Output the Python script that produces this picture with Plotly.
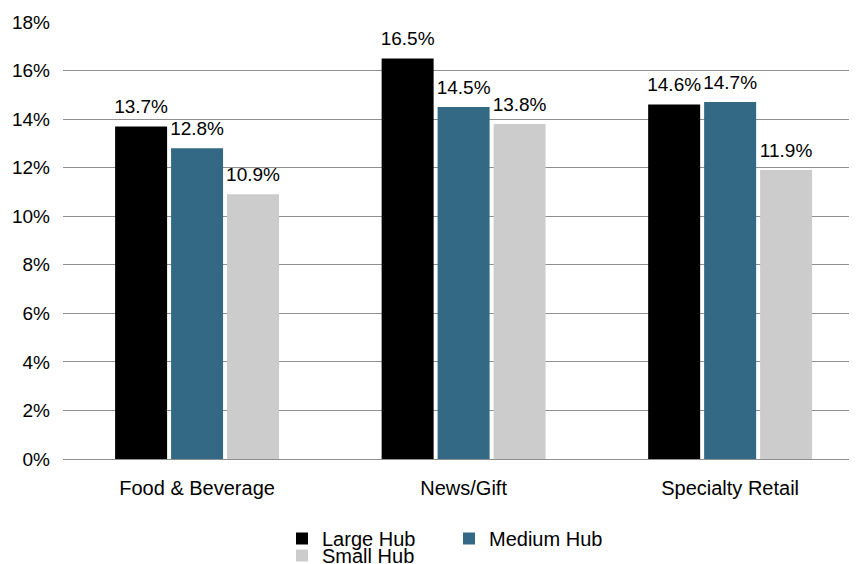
import plotly.graph_objects as go

categories = ["Food & Beverage", "News/Gift", "Specialty Retail"]
large_hub = [13.7, 16.5, 14.6]
medium_hub = [12.8, 14.5, 14.7]
small_hub = [10.9, 13.8, 11.9]
y_ticks = [0, 2, 4, 6, 8, 10, 12, 14, 16, 18]

FONT = "Liberation Sans, Arial, sans-serif"
W, H = 849, 556
GAP = 0.37

fig = go.Figure()
series = [
    ("Large Hub", large_hub, "#000000", "legend"),
    ("Medium Hub", medium_hub, "#336985", "legend"),
    ("Small Hub", small_hub, "#CCCCCC", "legend2"),
]
for name, vals, color, lg in series:
    fig.add_trace(go.Bar(
        name=name, x=categories, y=vals,
        marker=dict(color=color, line=dict(width=0)),
        legend=lg, offsetgroup=name, alignmentgroup="g",
    ))
for name, vals, color, lg in series:
    fig.add_trace(go.Scatter(
        x=categories, y=vals, mode="markers+text",
        text=[f"{v:.1f}%" for v in vals],
        textposition="top center",
        textfont=dict(size=19, color="#000000", family=FONT),
        marker=dict(size=12, opacity=0, color=color),
        cliponaxis=False, showlegend=False, hoverinfo="skip",
        offsetgroup=name, alignmentgroup="g",
    ))

fig.update_layout(
    width=W, height=H,
    margin=dict(l=55, r=0, t=14, b=105, autoexpand=False),
    paper_bgcolor="white", plot_bgcolor="white",
    font=dict(family=FONT, size=19, color="#000000"),
    barmode="group",
    bargap=GAP,
    bargroupgap=0.071,
    scattermode="group",
    scattergap=GAP,
    showlegend=True,
    legend=dict(
        orientation="h", xref="container", yref="container",
        x=274 / W, y=1 - 511 / H, xanchor="left", yanchor="top",
        font=dict(size=20, family=FONT), entrywidth=122, entrywidthmode="pixels",
        itemwidth=30, bgcolor="rgba(0,0,0,0)", tracegroupgap=0,
    ),
    legend2=dict(
        orientation="h", xref="container", yref="container",
        x=274 / W, y=1 - 528 / H, xanchor="left", yanchor="top",
        font=dict(size=20, family=FONT), itemwidth=30,
        bgcolor="rgba(0,0,0,0)",
    ),
)
fig.update_xaxes(showline=False, ticks="", tickfont=dict(size=20), showgrid=False,
                 ticklabelstandoff=15, range=[-0.503, 2.476])
fig.update_yaxes(
    range=[0, 18], tickvals=y_ticks, ticktext=[f"{t}%" for t in y_ticks],
    showgrid=True, gridcolor="#8f8f8f", gridwidth=1, zeroline=True,
    zerolinecolor="#8f8f8f", zerolinewidth=1, tickfont=dict(size=19),
    ticks="", ticklen=0, ticklabelstandoff=12,
)
fig.write_html("out.html")
